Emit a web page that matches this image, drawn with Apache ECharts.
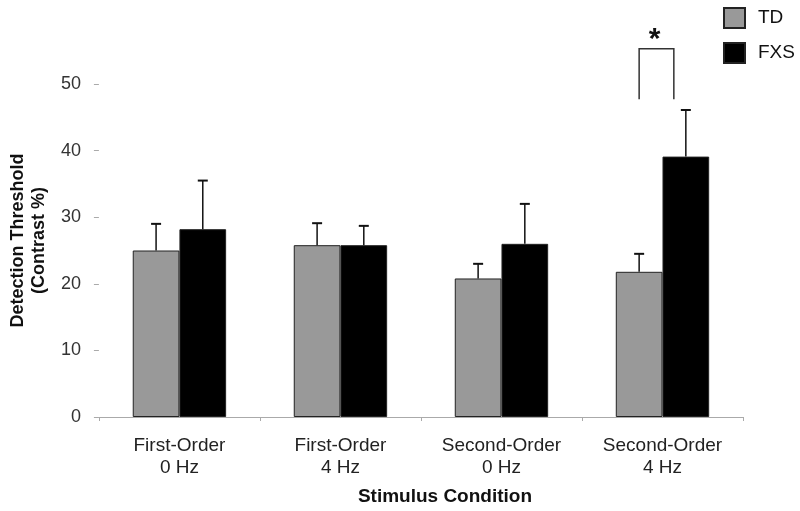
<!DOCTYPE html>
<html>
<head>
<meta charset="utf-8">
<script src="https://cdn.jsdelivr.net/npm/echarts@6/dist/echarts.min.js"></script>
<style>
  html, body { margin: 0; padding: 0; background: #fff; }
  #chart { width: 800px; height: 511px; }
</style>
</head>
<body>
<div id="chart"></div>
<script>
// values
const categories = ['First-Order\n0 Hz', 'First-Order\n4 Hz', 'Second-Order\n0 Hz', 'Second-Order\n4 Hz']
const tdMean = [25.0, 25.8, 20.8, 21.8]
const tdSE = [4.0, 3.3, 2.2, 2.7]
const fxsMean = [28.2, 25.8, 26.0, 39.1]
const fxsSE = [7.3, 2.9, 6.0, 7.0]
const yTicks = [0, 10, 20, 30, 40, 50]
// significance bracket over Second-Order 4 Hz: [category, bottom, top]
const sigBracket = [[3, 47.7, 55.3]]

const font = 'Liberation Sans, Arial, sans-serif'
const gapRatio = 0.42

const chart = echarts.init(document.getElementById('chart'))

function barHalf(api) {
  const band = api.size([1, 0])[0]
  return band * (1 - gapRatio) / 2
}

function errorItem(side) {
  return function (params, api) {
    const idx = api.value(0)
    const mean = api.value(1)
    const se = api.value(2)
    const bw = barHalf(api)
    const base = api.coord([idx, mean])
    const top = api.coord([idx, mean + se])
    const x = base[0] + side * bw / 2
    return {
      type: 'group',
      children: [
        { type: 'line', shape: { x1: x, y1: base[1], x2: x, y2: top[1] }, style: { stroke: '#111', lineWidth: 1.5 } },
        { type: 'line', shape: { x1: x - 5, y1: top[1], x2: x + 5, y2: top[1] }, style: { stroke: '#111', lineWidth: 2 } }
      ]
    }
  }
}

chart.setOption({
  animation: false,
  backgroundColor: '#fff',
  textStyle: { fontFamily: font },
  legend: {
    data: ['TD', 'FXS'],
    orient: 'vertical',
    left: 723,
    top: 7,
    padding: 0,
    itemWidth: 21,
    itemHeight: 20,
    itemGap: 13,
    icon: 'rect',
    textStyle: { fontSize: 19, color: '#111', fontFamily: font, padding: [0, 0, 0, 8] }
  },
  grid: { left: 94, right: 57, top: 84, bottom: 93 },
  xAxis: {
    type: 'category',
    data: categories,
    name: 'Stimulus Condition',
    nameLocation: 'middle',
    nameGap: 70,
    nameTextStyle: { fontSize: 19, fontWeight: 'bold', color: '#111', fontFamily: font, padding: [0, 0, 0, 48] },
    axisLine: { lineStyle: { color: '#aaa', width: 1 } },
    axisTick: { show: true, length: 4, lineStyle: { color: '#aaa' } },
    axisLabel: { fontSize: 19, color: '#222', lineHeight: 22, margin: 18, fontFamily: font }
  },
  yAxis: {
    type: 'value',
    min: yTicks[0],
    max: yTicks[yTicks.length - 1],
    interval: 10,
    name: 'Detection Threshold\n(Contrast %)',
    nameLocation: 'middle',
    nameGap: 48,
    nameTextStyle: { fontSize: 18, fontWeight: 'bold', color: '#111', lineHeight: 21, fontFamily: font, padding: [0, 0, 0, 20] },
    axisLine: { show: false },
    axisTick: { show: true, length: 5, lineStyle: { color: '#aaa' } },
    splitLine: { show: false },
    axisLabel: { fontSize: 18, color: '#333', margin: 18, fontFamily: font }
  },
  series: [
    {
      name: 'TD',
      type: 'bar',
      data: tdMean,
      barGap: '0%',
      barCategoryGap: (gapRatio * 100) + '%',
      itemStyle: { color: '#999', borderColor: '#222', borderWidth: 1 }
    },
    {
      name: 'FXS',
      type: 'bar',
      data: fxsMean,
      barGap: '0%',
      barCategoryGap: (gapRatio * 100) + '%',
      itemStyle: { color: '#000', borderColor: '#222', borderWidth: 1 }
    },
    {
      type: 'custom',
      renderItem: errorItem(-1),
      data: tdMean.map((m, i) => [i, m, tdSE[i]]),
      z: 5
    },
    {
      type: 'custom',
      renderItem: errorItem(1),
      data: fxsMean.map((m, i) => [i, m, fxsSE[i]]),
      z: 5
    },
    {
      type: 'custom',
      clip: false,
      z: 5,
      data: sigBracket,
      renderItem: function (params, api) {
        const idx = api.value(0)
        const bw = barHalf(api)
        const lo = api.coord([idx, api.value(1)])
        const hi = api.coord([idx, api.value(2)])
        const xl = lo[0] - bw / 2
        const xr = lo[0] + bw / 2 - 12
        return {
          type: 'group',
          children: [
            {
              type: 'polyline',
              shape: { points: [[xl, lo[1]], [xl, hi[1]], [xr, hi[1]], [xr, lo[1]]] },
              style: { stroke: '#333', lineWidth: 1.5, fill: null }
            },
            {
              type: 'text',
              style: {
                text: '*', x: (xl + xr) / 2 - 2, y: hi[1] + 6,
                align: 'center', verticalAlign: 'bottom',
                fontSize: 30, fontWeight: 'bold', fill: '#111', fontFamily: font
              }
            }
          ]
        }
      }
    }
  ]
})
</script>
</body>
</html>
